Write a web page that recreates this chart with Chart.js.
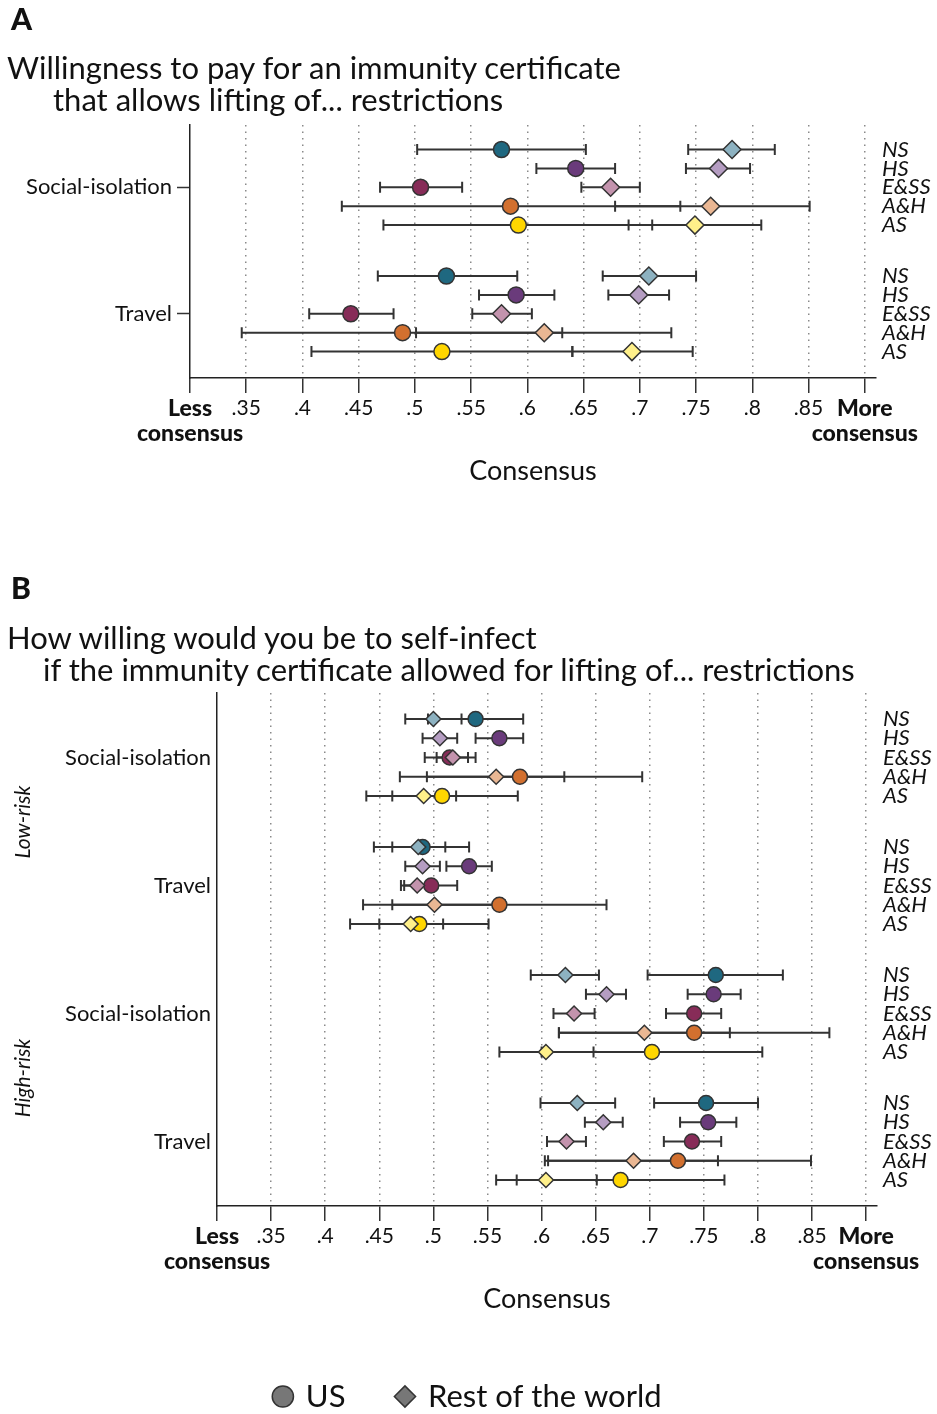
<!DOCTYPE html>
<html>
<head>
<meta charset="utf-8">
<script src="https://cdn.jsdelivr.net/npm/chart.js@4.4.1/dist/chart.umd.min.js"></script>
<style>
  html, body { margin: 0; padding: 0; background: #fff; overflow: hidden; }
  body { width: 937px; height: 1414px; position: relative; font-family: Lato, "DejaVu Sans", sans-serif; color: #111; }
  canvas { position: absolute; left: 0; }
  .txt { position: absolute; white-space: nowrap; z-index: 2; }
  .letter { font-weight: 900; font-size: 30px; }
  .title { font-size: 31px; line-height: 32px; }
  .risk { font-style: italic; font-size: 21px; transform: translate(-50%, -50%) rotate(-90deg); }
</style>
</head>
<body>
<div class="txt letter" style="left:11px; top:0px;">A</div>
<div class="txt title" style="left:7px; top:51px;">Willingness to pay for an immunity certificate</div>
<div class="txt title" style="left:53px; top:83px;">that allows lifting of... restrictions</div>

<div class="txt letter" style="left:11px; top:569px;">B</div>
<div class="txt title" style="left:7px; top:621px;">How willing would you be to self-infect</div>
<div class="txt title" style="left:43px; top:653px;">if the immunity certificate allowed for lifting of... restrictions</div>

<div class="txt risk" style="left:21px; top:822px;">Low-risk</div>
<div class="txt risk" style="left:21px; top:1078px;">High-risk</div>

<canvas id="chartA" width="937" height="510" style="top:0px;"></canvas>
<canvas id="chartB" width="937" height="862" style="top:560px;"></canvas>

<script>
// categories
const fields = ['NS', 'HS', 'E&SS', 'A&H', 'AS'];
const groupsA = ['Social-isolation', 'Travel'];
const groupsB = ['Social-isolation', 'Travel', 'Social-isolation', 'Travel'];

// x ticks
const xTickValues = [0.3, 0.35, 0.4, 0.45, 0.5, 0.55, 0.6, 0.65, 0.7, 0.75, 0.8, 0.85, 0.9];
const xTickLabels = [['Less', 'consensus'], '.35', '.4', '.45', '.5', '.55', '.6', '.65', '.7', '.75', '.8', '.85', ['More', 'consensus']];

// Panel A: Social-isolation (NS..AS), then Travel (NS..AS)
const aUsMean  = [0.577, 0.643, 0.505, 0.585, 0.592, 0.528, 0.590, 0.443, 0.489, 0.524];
const aUsLo    = [0.502, 0.608, 0.469, 0.435, 0.472, 0.467, 0.557, 0.406, 0.346, 0.408];
const aUsHi    = [0.652, 0.678, 0.542, 0.736, 0.711, 0.591, 0.624, 0.481, 0.631, 0.640];
const aRowMean = [0.782, 0.770, 0.674, 0.763, 0.749, 0.708, 0.699, 0.577, 0.615, 0.693];
const aRowLo   = [0.743, 0.741, 0.648, 0.678, 0.690, 0.667, 0.672, 0.551, 0.501, 0.640];
const aRowHi   = [0.820, 0.798, 0.700, 0.851, 0.808, 0.750, 0.726, 0.604, 0.728, 0.747];

// Panel B: Low-risk Social, Low-risk Travel, High-risk Social, High-risk Travel
const bUsMean  = [0.539, 0.561, 0.515, 0.580, 0.508, 0.490, 0.533, 0.498, 0.561, 0.487,
                  0.761, 0.759, 0.741, 0.741, 0.702, 0.752, 0.754, 0.739, 0.726, 0.673];
const bUsLo    = [0.495, 0.539, 0.492, 0.469, 0.438, 0.445, 0.512, 0.473, 0.462, 0.423,
                  0.698, 0.735, 0.715, 0.616, 0.600, 0.704, 0.728, 0.713, 0.603, 0.577];
const bUsHi    = [0.583, 0.583, 0.539, 0.693, 0.578, 0.533, 0.554, 0.522, 0.660, 0.551,
                  0.823, 0.784, 0.766, 0.866, 0.804, 0.800, 0.780, 0.766, 0.849, 0.769];
const bRowMean = [0.500, 0.506, 0.518, 0.558, 0.491, 0.486, 0.490, 0.485, 0.501, 0.479,
                  0.622, 0.660, 0.630, 0.695, 0.604, 0.633, 0.657, 0.623, 0.685, 0.604];
const bRowLo   = [0.474, 0.490, 0.503, 0.494, 0.462, 0.462, 0.474, 0.470, 0.435, 0.450,
                  0.590, 0.641, 0.611, 0.616, 0.561, 0.599, 0.640, 0.605, 0.606, 0.558];
const bRowHi   = [0.526, 0.522, 0.532, 0.621, 0.521, 0.511, 0.506, 0.499, 0.566, 0.509,
                  0.653, 0.678, 0.649, 0.774, 0.648, 0.668, 0.675, 0.641, 0.763, 0.651];

const usColors  = ['#1f6880', '#6a3b7b', '#872c58', '#d2702f', '#ffd600'];
const rowColors = ['#8db2c1', '#b59dc2', '#c393ad', '#eab793', '#fff08a'];

const FONT = 'Lato, "DejaVu Sans", sans-serif';
const INK = '#333';

// row position on the y axis: group block then field within it
function rowPos(i, gap) { return Math.floor(i / 5) * gap + (i % 5); }

function points(mean, lo, hi, gap) {
  return mean.map((m, i) => ({ x: m, y: rowPos(i, gap), lo: lo[i], hi: hi[i] }));
}

function colorsFor(palette, n) {
  return Array.from({ length: n }, (_, i) => palette[i % 5]);
}

const errorBars = {
  id: 'errorBars',
  beforeDatasetsDraw(chart) {
    const { ctx, scales: { x, y } } = chart;
    ctx.save();
    ctx.strokeStyle = INK;
    ctx.lineWidth = 2;
    chart.data.datasets.forEach(ds => {
      ds.data.forEach(p => {
        const py = y.getPixelForValue(p.y);
        const x0 = x.getPixelForValue(p.lo);
        const x1 = x.getPixelForValue(p.hi);
        ctx.beginPath();
        ctx.moveTo(x0, py); ctx.lineTo(x1, py);
        ctx.moveTo(x0, py - 5.5); ctx.lineTo(x0, py + 5.5);
        ctx.moveTo(x1, py - 5.5); ctx.lineTo(x1, py + 5.5);
        ctx.stroke();
      });
    });
    ctx.restore();
  }
};

function makeChart(id, o) {
  const n = o.usMean.length;
  const nGroups = n / 5;
  const yMin = -o.padTop;
  const yMax = (nGroups - 1) * o.gap + 4 + o.padBottom;
  const rowTicks = Array.from({ length: n }, (_, i) => rowPos(i, o.gap));
  const groupTicks = o.groups.map((g, k) => k * o.gap + 2);

  return new Chart(document.getElementById(id), {
    type: 'scatter',
    data: {
      datasets: [
        {
          label: 'Rest of the world', order: 0,
          data: points(o.rowMean, o.rowLo, o.rowHi, o.gap),
          pointStyle: 'rectRot', pointRadius: o.diamondR, pointHoverRadius: o.diamondR,
          pointBackgroundColor: colorsFor(rowColors, n), pointBorderColor: INK, pointBorderWidth: 1.5
        },
        {
          label: 'US', order: 1,
          data: points(o.usMean, o.usLo, o.usHi, o.gap),
          pointStyle: 'circle', pointRadius: o.circleR, pointHoverRadius: o.circleR,
          pointBackgroundColor: colorsFor(usColors, n), pointBorderColor: INK, pointBorderWidth: 1.5
        }
      ]
    },
    options: {
      responsive: false,
      animation: false,
      events: [],
      layout: { padding: { top: o.top, right: 0, bottom: 0, left: 0 } },
      plugins: {
        tooltip: { enabled: false },
        legend: o.legend ? {
          display: true,
          position: 'bottom',
          labels: {
            usePointStyle: true,
            boxWidth: 15, boxHeight: 15,
            padding: 52,
            color: '#111',
            font: { family: FONT, size: 31 },
            generateLabels: () => [
              { text: 'US', pointStyle: 'circle', fillStyle: '#777', strokeStyle: INK, lineWidth: 1.5, fontColor: '#111', datasetIndex: 1 },
              { text: 'Rest of the world', pointStyle: 'rectRot', fillStyle: '#777', strokeStyle: INK, lineWidth: 1.5, fontColor: '#111', datasetIndex: 0 }
            ]
          }
        } : { display: false }
      },
      scales: {
        x: {
          type: 'linear',
          min: 0.3, max: 0.91,
          afterBuildTicks: s => { s.ticks = xTickValues.map(v => ({ value: v })); },
          afterFit: s => { s.height = o.xHeight; },
          border: { color: '#222', width: 1.5, dash: [1.5, 5] },
          grid: {
            color: c => (c.index === 0 ? 'rgba(0,0,0,0)' : '#8a8a8a'),
            lineWidth: 1.5,
            tickLength: 15,
            tickColor: INK,
            tickWidth: 1.5,
            tickBorderDash: []
          },
          ticks: {
            autoSkip: false, maxRotation: 0, minRotation: 0,
            padding: 3,
            color: '#111',
            callback: (v, i) => xTickLabels[i],
            font: c => {
              const end = c.index === 0 || c.index === xTickValues.length - 1;
              return { family: FONT, size: end ? 23 : 21, lineHeight: end ? 1.08 : 1.2, weight: end ? 900 : 'normal' };
            }
          },
          title: {
            display: true, text: 'Consensus', color: '#111',
            font: { family: FONT, size: 27 },
            padding: { top: 0, bottom: o.titlePad }
          }
        },
        y: {
          type: 'linear', reverse: true,
          min: yMin, max: yMax,
          afterBuildTicks: s => { s.ticks = groupTicks.map(v => ({ value: v })); },
          afterFit: s => { s.width = o.left; },
          border: { color: '#222', width: 1.5 },
          grid: { display: o.yTicks, drawTicks: o.yTicks, drawOnChartArea: false, tickLength: 13, tickColor: INK, tickWidth: 1.5 },
          ticks: {
            padding: o.yTicks ? 5 : 6,
            color: '#111',
            callback: (v, i) => o.groups[i],
            font: { family: FONT, size: 22 }
          }
        },
        yR: {
          type: 'linear', position: 'right', reverse: true,
          min: yMin, max: yMax,
          afterBuildTicks: s => { s.ticks = rowTicks.map(v => ({ value: v })); },
          afterFit: s => { s.width = 937 - o.right; },
          border: { display: false },
          grid: { display: false, drawTicks: false },
          ticks: {
            padding: 6,
            color: '#111',
            callback: (v, i) => fields[i % 5],
            font: { family: FONT, size: 22, style: 'italic', lineHeight: 1 }
          }
        }
      }
    },
    plugins: [errorBars]
  });
}

makeChart('chartA', {
  usMean: aUsMean, usLo: aUsLo, usHi: aUsHi,
  rowMean: aRowMean, rowLo: aRowLo, rowHi: aRowHi,
  groups: groupsA, gap: 6.7, padTop: 1.3, padBottom: 1.4,
  top: 125, left: 190, right: 876, xHeight: 132, titlePad: 23,
  circleR: 8, diamondR: 9, yTicks: true, legend: false
});

makeChart('chartB', {
  usMean: bUsMean, usLo: bUsLo, usHi: bUsHi,
  rowMean: bRowMean, rowLo: bRowLo, rowHi: bRowHi,
  groups: groupsB, gap: 6.65, padTop: 1.35, padBottom: 1.35,
  top: 133, left: 217, right: 877, xHeight: 123, titlePad: 14,
  circleR: 7.5, diamondR: 7.5, yTicks: false, legend: true
});
</script>
</body>
</html>
